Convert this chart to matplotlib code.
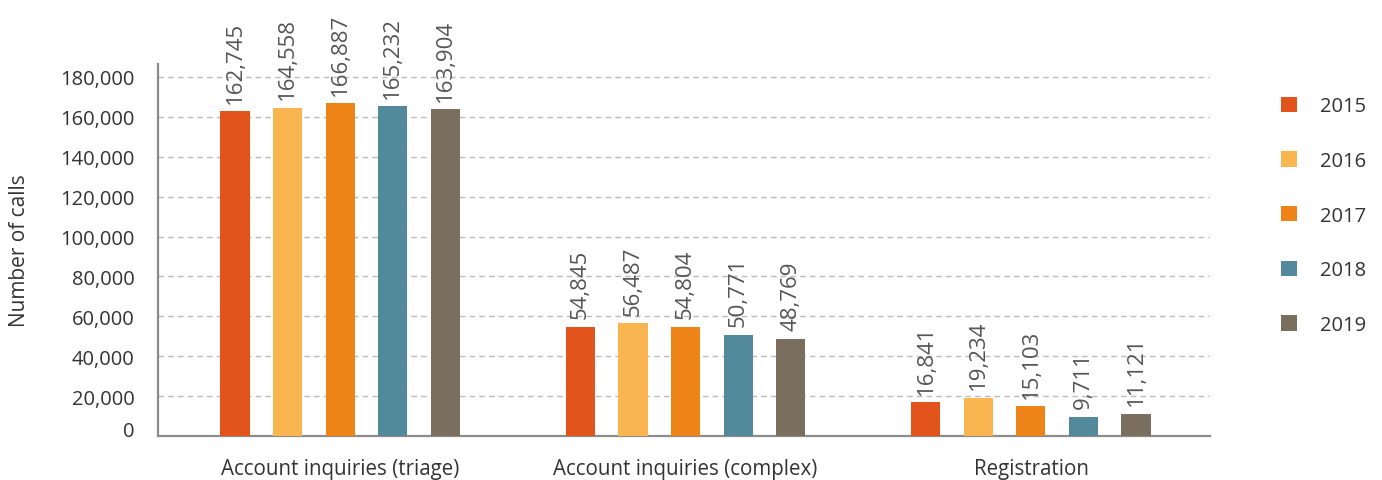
import numpy as np
import matplotlib.pyplot as plt
from matplotlib.patches import Patch
from matplotlib.transforms import ScaledTranslation

plt.rcParams['font.family'] = ['Open Sans', 'DejaVu Sans']

# Calls per category and year
categories = ['Account inquiries (triage)', 'Account inquiries (complex)', 'Registration']
years = ['2015', '2016', '2017', '2018', '2019']
calls_2015 = [162745, 54845, 16841]
calls_2016 = [164558, 56487, 19234]
calls_2017 = [166887, 54804, 15103]
calls_2018 = [165232, 50771, 9711]
calls_2019 = [163904, 48769, 11121]
yticks = [0, 20000, 40000, 60000, 80000, 100000, 120000, 140000, 160000, 180000]

series = [calls_2015, calls_2016, calls_2017, calls_2018, calls_2019]
colors = ['#E2541B', '#F8B550', '#EE8418', '#528A9B', '#7A6E5F']

fig = plt.figure(figsize=(13.82, 4.81), dpi=100)
ax = fig.add_axes([0.1143, 0.0915, 0.7612, 0.7734])

x = np.arange(len(categories))
step = 0.152
width = 0.084
for i, (vals, col) in enumerate(zip(series, colors)):
    pos = x + (i - 2) * step
    ax.bar(pos, vals, width=width, color=col, zorder=3)
    for px, v in zip(pos, vals):
        ax.annotate(f'{v:,}', xy=(px, v), xytext=(0, 6), textcoords='offset points',
                    rotation=90, ha='center', va='bottom', fontsize=16,
                    color='#555555')

ax.set_xlim(-0.527, 2.518)
ax.set_ylim(0, 186500)
ax.set_yticks(yticks)
ax.set_yticklabels([f'{t:,}' for t in yticks])
ax.set_xticks(x)
ax.set_xticklabels(categories)
ax.tick_params(axis='y', length=0, pad=17, labelsize=14.5, labelcolor='#333333')
ax.tick_params(axis='x', length=0, pad=16, labelsize=14.8, labelcolor='#333333')

# lift the zero label a little off the baseline
ax.get_yticklabels()[0].set_transform(
    ax.get_yticklabels()[0].get_transform() + ScaledTranslation(0, 7 / 100, fig.dpi_scale_trans))

ax.yaxis.grid(True, linestyle=(0, (4, 3)), color='#BBBBBB', linewidth=1, zorder=0)
for side in ['top', 'right']:
    ax.spines[side].set_visible(False)
for side in ['left', 'bottom']:
    ax.spines[side].set_color('#8C8C8C')
    ax.spines[side].set_linewidth(1.6)

ax.set_ylabel('Number of calls', fontsize=15, color='#333333')
ax.yaxis.set_label_coords(-0.122, 0.5)

handles = [Patch(facecolor=c, edgecolor='none') for c in colors]
fig.legend(handles, years, loc='upper left', bbox_to_anchor=(0.914, 0.835),
           frameon=False, fontsize=14.5, handlelength=0.8, handleheight=0.8,
           handletextpad=1.1, labelspacing=1.72, labelcolor='#333333')

fig.savefig('out.png', dpi=100)
